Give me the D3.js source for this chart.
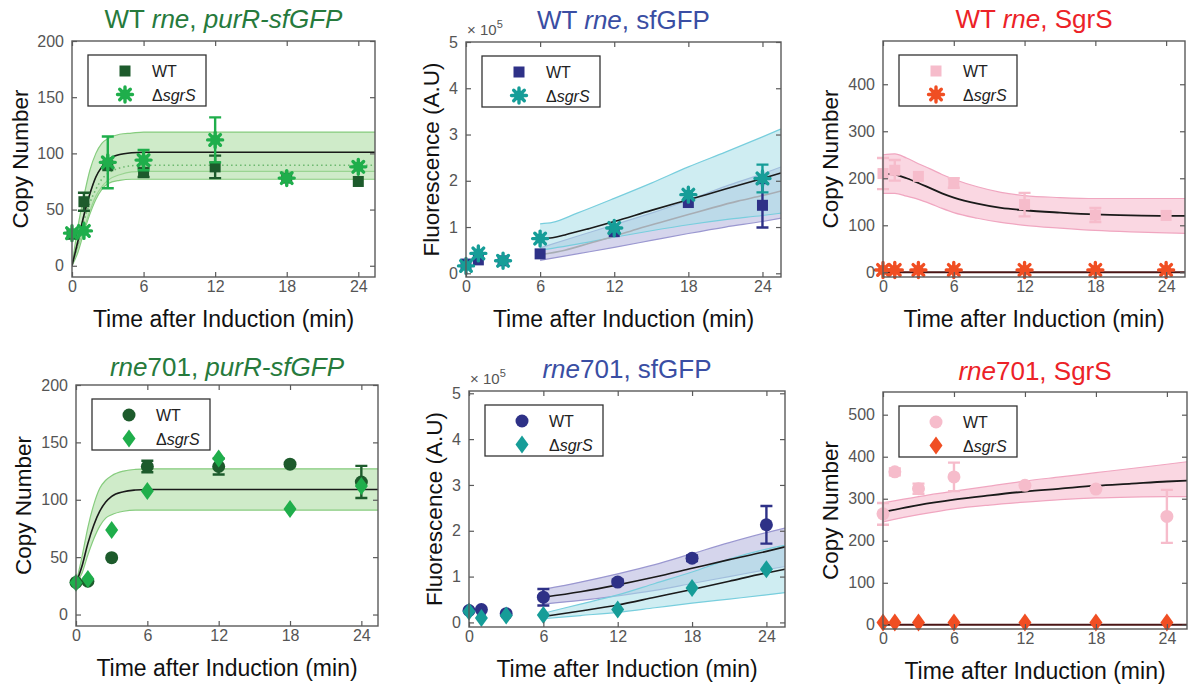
<!DOCTYPE html>
<html>
<head>
<meta charset="UTF-8">
<script src="https://d3js.org/d3.v7.min.js"></script>
<style>
  body { margin: 0; background: #fff; }
  svg text { font-family: "Liberation Sans", Arial, Helvetica, sans-serif; }
</style>
<title>Copy number and fluorescence after induction</title>
</head>
<body>
<svg width="1193" height="692"></svg>
<script>
// ---- shared axis values ----
var times = [0, 1, 3, 6, 12, 18, 24];
var xTicks = [0, 6, 12, 18, 24];
var copyTicks200 = [0, 50, 100, 150, 200];
var fluoTicks = [0, 1, 2, 3, 4, 5];
var copyTicks400 = [0, 100, 200, 300, 400];
var copyTicks500 = [0, 100, 200, 300, 400, 500];

// ---- A: WT rne, purR-sfGFP ----
var aWT = [28, 57, 89, 83, 88, 78, 75];
var aWTErr = [0, 8, 0, 4, 10, 0, 0];
var aDel = [29, 31, 92, 94, 112, 78, 88];
var aDelErr = [0, 0, 23, 9, 20, 0, 0];
var aFit = [[0, 0], [0.5, 22], [1, 45], [1.5, 64], [2, 79], [2.5, 88], [3, 94], [4, 99], [5, 100.5], [6, 101], [25.4, 101]];
var aFitDot = [[0, 0], [0.5, 20], [1, 40], [1.5, 56], [2, 68], [2.5, 77], [3, 82], [4, 87], [5, 89], [6, 89.5], [25.4, 89.5]];
var aBand = [[0, 0, 0], [0.5, 12, 35], [1, 30, 62], [1.5, 46, 85], [2, 59, 100], [2.5, 68, 109], [3, 73, 113], [4, 76, 117], [5, 77, 118], [6, 77, 119], [25.4, 77, 119]];
var aBand2 = [[0, 0, 0], [1, 33, 45], [2, 62, 79], [3, 76, 94], [4, 81, 99], [5, 83.5, 100.5], [6, 84, 101], [25.4, 84, 101]];

// ---- B: WT rne, sfGFP (x 10^5) ----
var bWT = [0.2, 0.29, 0.27, 0.42, 0.9, 1.53, 1.47];
var bWTErr = [0, 0, 0, 0, 0, 0, 0.48];
var bDel = [0.16, 0.43, 0.27, 0.75, 0.98, 1.7, 2.05];
var bDelErr = [0, 0, 0, 0, 0, 0, 0.3];
var bFitDel = [[6, 0.75], [7, 0.77], [8, 0.83], [10, 0.97], [12, 1.12], [15, 1.36], [18, 1.59], [21, 1.82], [24, 2.05], [25.5, 2.17]];
var bFitWT = [[6, 0.4], [8, 0.5], [10, 0.65], [12, 0.8], [14, 0.97], [16, 1.12], [18, 1.27], [20, 1.42], [22, 1.56], [24, 1.68], [25.5, 1.78]];
var bBandDel = [[6, 0.5, 1.07], [7, 0.54, 1.1], [9, 0.63, 1.3], [12, 0.78, 1.62], [15, 0.92, 1.95], [18, 1.05, 2.3], [21, 1.16, 2.62], [24, 1.25, 2.95], [25.5, 1.3, 3.12]];
var bBandWT = [[6, 0.28, 0.55], [9, 0.42, 0.8], [12, 0.56, 1.05], [15, 0.71, 1.3], [18, 0.86, 1.58], [21, 1.0, 1.88], [24, 1.12, 2.15], [25.5, 1.19, 2.3]];

// ---- C: WT rne, SgrS ----
var cWT = [210, 217, 204, 190, 144, 122, 121];
var cWTErr = [33, 22, 0, 10, 25, 15, 0];
var cDel = [5, 5, 5, 5, 5, 5, 5];
var cDelErr = [0, 0, 0, 0, 0, 0, 0];
var cFit = [[0, 210], [1, 208], [2, 200], [3, 190], [4, 179], [5, 168], [6, 159], [8, 146], [10, 137], [12, 132], [15, 127], [18, 123], [21, 121], [24, 120], [25.6, 120]];
var cFitDel = [[0, 0], [25.6, 0]];
var cBand = [[0, 168, 250], [1, 168, 252], [2, 162, 243], [3, 155, 231], [4, 146, 220], [5, 136, 208], [6, 127, 198], [8, 115, 182], [10, 106, 170], [12, 100, 163], [15, 94, 159], [18, 89, 157], [21, 86, 157], [24, 84, 157], [25.6, 83, 157]];

// ---- D: rne701, purR-sfGFP ----
var dWT = [28, 29, 49.5, 129, 129, 131, 115.5];
var dWTErr = [0, 0, 0, 5, 7, 0, 14];
var dDel = [27.6, 31, 73.6, 107.6, 136, 92, 112];
var dDelErr = [0, 0, 0, 0, 0, 0, 0];
var dFit = [[0, 27], [0.5, 42], [1, 62], [1.5, 78], [2, 90], [2.5, 98], [3, 103], [4, 107], [5, 108.5], [6, 109], [25.4, 109]];
var dBand = [[0, 27, 27], [0.5, 36, 50], [1, 52, 76], [1.5, 66, 96], [2, 77, 110], [2.5, 84, 117], [3, 87, 121], [4, 90, 125], [5, 91, 126.5], [6, 91, 127], [25.4, 91, 127]];

// ---- E: rne701, sfGFP (x 10^5) ----
var eWT = [0.26, 0.28, 0.19, 0.55, 0.88, 1.4, 2.13];
var eWTErr = [0, 0, 0, 0.18, 0.06, 0.06, 0.41];
var eDel = [0.24, 0.095, 0.15, 0.16, 0.28, 0.75, 1.16];
var eDelErr = [0, 0, 0, 0, 0, 0, 0];
var eFitWT = [[6, 0.55], [9, 0.67], [12, 0.82], [15, 0.99], [18, 1.18], [21, 1.37], [24, 1.55], [25.5, 1.65]];
var eFitDel = [[6, 0.13], [9, 0.25], [12, 0.38], [15, 0.55], [18, 0.72], [21, 0.9], [24, 1.08], [25.5, 1.16]];
var eBandWT = [[6, 0.4, 0.72], [9, 0.48, 0.88], [12, 0.58, 1.06], [15, 0.7, 1.26], [18, 0.85, 1.5], [21, 1.0, 1.74], [24, 1.15, 1.96], [25.5, 1.22, 2.06]];
var eBandDel = [[6, 0.08, 0.2], [9, 0.15, 0.4], [12, 0.22, 0.6], [15, 0.32, 0.85], [18, 0.42, 1.1], [21, 0.51, 1.38], [24, 0.6, 1.6], [25.5, 0.65, 1.68]];

// ---- F: rne701, SgrS ----
var fWT = [264, 364, 324, 352, 332, 323, 258];
var fWTErr = [26, 8, 12, 34, 0, 0, 63];
var fDel = [5.5, 5.5, 5.5, 5.5, 5.5, 5.5, 5.5];
var fDelErr = [0, 0, 0, 0, 0, 0, 0];
var fFit = [[0, 268], [3, 285], [6, 298], [9, 308], [12, 317], [15, 324], [18, 331], [21, 336], [24, 341], [25.7, 343]];
var fFitDel = [[0, 0], [25.7, 0]];
var fBand = [[0, 245, 290], [3, 262, 305], [6, 276, 318], [9, 285, 330], [12, 292, 342], [15, 298, 352], [18, 302, 362], [21, 304, 372], [24, 305, 382], [25.7, 305, 388]];

// colours
var dkGreen = "#1d5b2c", green = "#1fae4b", navy = "#2e3187", teal = "#169d98",
    pink = "#f6bccb", orange = "#f04e23";
var greenTitle = "#267a3c", blueTitle = "#3a4ea3", redTitle = "#ec2227";

var panels = [
  { rect: [72, 375, 41, 277], xMax: 25.4, yDom: [-10, 200], yTicks: copyTicks200, yLabel: "Copy Number", yOff: 44,
    title: [["WT ", 0], ["rne", 1], [", ", 0], ["purR-sfGFP", 1]], titleColor: greenTitle, titleY: 28,
    bands: [{ d: aBand, fill: "#9fd894", op: 0.5, stroke: "#86cc7e" }, { d: aBand2, fill: "#9fd894", op: 0.15, stroke: "#9ad492" }],
    lines: [{ d: aFitDot, color: "#6cb86f", w: 1.6, dash: "1.5,3" }, { d: aFit, color: "#1a1a1a", w: 1.6 }],
    series: [{ y: aWT, err: aWTErr, color: dkGreen, m: "square" }, { y: aDel, err: aDelErr, color: green, m: "asterisk" }] },
  { rect: [466, 781, 42, 277], xMax: 25.5, yDom: [-0.08, 5], yTicks: fluoTicks, yLabel: "Fluorescence (A.U)", yOff: 27, exp: true,
    title: [["WT ", 0], ["rne", 1], [", sfGFP", 0]], titleColor: blueTitle, titleY: 28.5,
    bands: [{ d: bBandWT, fill: "#b9b9e0", op: 0.6, stroke: "#9a97d0" }, { d: bBandDel, fill: "#a8dfe8", op: 0.55, stroke: "#78cedd" }],
    lines: [{ d: bFitWT, color: "#a7adb4", w: 1.6 }, { d: bFitDel, color: "#1a1a1a", w: 1.6 }],
    series: [{ y: bWT, err: bWTErr, color: navy, m: "square" }, { y: bDel, err: bDelErr, color: teal, m: "asterisk" }] },
  { rect: [883, 1185, 41, 277], xMax: 25.6, yDom: [-10, 492], yTicks: copyTicks400, yLabel: "Copy Number", yOff: 45,
    title: [["WT ", 0], ["rne", 1], [", SgrS", 0]], titleColor: redTitle, titleY: 27.5,
    bands: [{ d: cBand, fill: "#f8c9d8", op: 0.75, stroke: "#f0a6c0" }],
    lines: [{ d: cFitDel, color: "#4a1515", w: 2 }, { d: cFit, color: "#1a1a1a", w: 1.8 }],
    series: [{ y: cWT, err: cWTErr, color: pink, m: "square" }, { y: cDel, err: cDelErr, color: orange, m: "asterisk" }] },
  { rect: [76, 378, 385, 626], xMax: 25.4, yDom: [-10, 200], yTicks: copyTicks200, yLabel: "Copy Number", yOff: 45,
    title: [["rne", 1], ["701, ", 0], ["purR-sfGFP", 1]], titleColor: greenTitle, titleY: 376,
    bands: [{ d: dBand, fill: "#9fd894", op: 0.5, stroke: "#86cc7e" }],
    lines: [{ d: dFit, color: "#1a1a1a", w: 1.6 }],
    series: [{ y: dWT, err: dWTErr, color: dkGreen, m: "circle" }, { y: dDel, err: dDelErr, color: green, m: "diamond" }] },
  { rect: [469, 785, 391, 627], xMax: 25.5, yDom: [-0.1, 5.05], yTicks: fluoTicks, yLabel: "Fluorescence (A.U)", yOff: 27, exp: true,
    title: [["rne", 1], ["701, sfGFP", 0]], titleColor: blueTitle, titleY: 377.5,
    bands: [{ d: eBandWT, fill: "#b9b9e0", op: 0.6, stroke: "#9a97d0" }, { d: eBandDel, fill: "#a8dfe8", op: 0.55, stroke: "#78cedd" }],
    lines: [{ d: eFitWT, color: "#1a1a1a", w: 1.6 }, { d: eFitDel, color: "#1a1a1a", w: 1.6 }],
    series: [{ y: eWT, err: eWTErr, color: navy, m: "circle" }, { y: eDel, err: eDelErr, color: teal, m: "diamond" }] },
  { rect: [883, 1187, 392, 629], xMax: 25.7, yDom: [-10, 554], yTicks: copyTicks500, yLabel: "Copy Number", yOff: 45,
    title: [["rne", 1], ["701, SgrS", 0]], titleColor: redTitle, titleY: 379.5,
    bands: [{ d: fBand, fill: "#f8c9d8", op: 0.75, stroke: "#f0a6c0" }],
    lines: [{ d: fFitDel, color: "#4a1515", w: 2 }, { d: fFit, color: "#1a1a1a", w: 1.8 }],
    series: [{ y: fWT, err: fWTErr, color: pink, m: "circle" }, { y: fDel, err: fDelErr, color: orange, m: "diamond" }] }
];

var svg = d3.select("svg");

// draws one marker shape centred on 0,0 inside g
function marker(g, type, color) {
  if (type === "square") {
    g.append("rect").attr("x", -5.5).attr("y", -5.5).attr("width", 11).attr("height", 11).attr("fill", color);
  } else if (type === "circle") {
    g.append("circle").attr("r", 6.5).attr("fill", color);
  } else if (type === "diamond") {
    g.append("path").attr("d", "M0,-9L6.5,0L0,9L-6.5,0Z").attr("fill", color);
  } else {
    var r = 7.5, a = r * 0.7071;
    g.append("circle").attr("r", 5).attr("fill", color);
    g.append("path")
      .attr("d", "M" + (-r) + ",0L" + r + ",0M0," + (-r) + "L0," + r +
                 "M" + (-a) + "," + (-a) + "L" + a + "," + a + "M" + (-a) + "," + a + "L" + a + "," + (-a))
      .attr("stroke", color).attr("stroke-width", 3.4).attr("stroke-linecap", "round");
  }
}

panels.forEach(function(p, i) {
  var x0 = p.rect[0], x1 = p.rect[1], y0 = p.rect[2], y1 = p.rect[3];
  var x = d3.scaleLinear().domain([0, p.xMax]).range([x0, x1]);
  var y = d3.scaleLinear().domain(p.yDom).range([y1, y0]);
  var g = svg.append("g");

  g.append("clipPath").attr("id", "clip" + i)
    .append("rect").attr("x", x0).attr("y", y0).attr("width", x1 - x0).attr("height", y1 - y0);
  var plot = g.append("g").attr("clip-path", "url(#clip" + i + ")");

  // confidence bands
  p.bands.forEach(function(b) {
    var area = d3.area().x(function(d) { return x(d[0]); })
      .y0(function(d) { return y(d[1]); }).y1(function(d) { return y(d[2]); })
      .curve(d3.curveMonotoneX);
    plot.append("path").datum(b.d).attr("d", area).attr("fill", b.fill).attr("fill-opacity", b.op);
    [1, 2].forEach(function(k) {
      var edge = d3.line().x(function(d) { return x(d[0]); }).y(function(d) { return y(d[k]); }).curve(d3.curveMonotoneX);
      plot.append("path").datum(b.d).attr("d", edge).attr("fill", "none")
        .attr("stroke", b.stroke).attr("stroke-width", 1.2);
    });
  });

  // fitted curves
  p.lines.forEach(function(l) {
    var line = d3.line().x(function(d) { return x(d[0]); }).y(function(d) { return y(d[1]); }).curve(d3.curveMonotoneX);
    plot.append("path").datum(l.d).attr("d", line).attr("fill", "none")
      .attr("stroke", l.color).attr("stroke-width", l.w).attr("stroke-dasharray", l.dash || null);
  });

  // measured points with error bars
  p.series.forEach(function(s) {
    times.forEach(function(t, j) {
      var cx = x(t), cy = y(s.y[j]);
      if (s.err[j] > 0) {
        var top = y(s.y[j] + s.err[j]), bot = y(s.y[j] - s.err[j]);
        g.append("path")
          .attr("d", "M" + cx + "," + top + "L" + cx + "," + bot +
                     "M" + (cx - 6) + "," + top + "L" + (cx + 6) + "," + top +
                     "M" + (cx - 6) + "," + bot + "L" + (cx + 6) + "," + bot)
          .attr("stroke", s.color).attr("stroke-width", 2.4).attr("fill", "none");
      }
      marker(g.append("g").attr("transform", "translate(" + cx + "," + cy + ")"), s.m, s.color);
    });
  });

  // axes: inward ticks on all four sides
  var tickCol = "#5a5a5a";
  var ax = [
    g.append("g").attr("transform", "translate(0," + y1 + ")")
      .call(d3.axisBottom(x).tickValues(xTicks).tickSizeInner(-5).tickSizeOuter(0).tickPadding(4)),
    g.append("g").attr("transform", "translate(0," + y0 + ")")
      .call(d3.axisTop(x).tickValues(xTicks).tickSizeInner(-5).tickSizeOuter(0).tickFormat("")),
    g.append("g").attr("transform", "translate(" + x0 + ",0)")
      .call(d3.axisLeft(y).tickValues(p.yTicks).tickFormat(d3.format("d")).tickSizeInner(-5).tickSizeOuter(0).tickPadding(8)),
    g.append("g").attr("transform", "translate(" + x1 + ",0)")
      .call(d3.axisRight(y).tickValues(p.yTicks).tickSizeInner(-5).tickSizeOuter(0).tickFormat(""))
  ];
  ax.forEach(function(a) {
    a.select(".domain").remove();
    a.selectAll("line").attr("stroke", tickCol).attr("stroke-width", 1.2);
    a.selectAll("text").attr("font-size", 16).attr("fill", "#555")
      .style("font-family", '"Liberation Sans", Arial, sans-serif');
  });
  g.append("rect").attr("x", x0).attr("y", y0).attr("width", x1 - x0).attr("height", y1 - y0)
    .attr("fill", "none").attr("stroke", tickCol).attr("stroke-width", 1.4);

  if (p.exp) {
    var e = g.append("text").attr("x", x0 + 1).attr("y", y0 - 7).attr("font-size", 15).attr("fill", "#555");
    e.append("tspan").text("\u00d7 10");
    e.append("tspan").attr("dy", -7).attr("font-size", 11).text("5");
  }

  // labels
  g.append("text").attr("x", (x0 + x1) / 2).attr("y", y1 + 50).attr("text-anchor", "middle")
    .attr("font-size", 23).attr("fill", "#111").text("Time after Induction (min)");
  g.append("text").attr("transform", "translate(" + (x0 - p.yOff) + "," + ((y0 + y1) / 2) + ") rotate(-90)")
    .attr("text-anchor", "middle").attr("font-size", 22.5).attr("fill", "#111").text(p.yLabel);
  var tt = g.append("text").attr("x", (x0 + x1) / 2).attr("y", p.titleY).attr("text-anchor", "middle")
    .attr("font-size", 26).attr("fill", p.titleColor);
  p.title.forEach(function(part) {
    tt.append("tspan").attr("font-style", part[1] ? "italic" : "normal").text(part[0]);
  });

  // legend
  var lx = x0 + 16, ly = y0 + 14;
  var leg = g.append("g").attr("transform", "translate(" + lx + "," + ly + ")");
  leg.append("rect").attr("width", 118).attr("height", 51).attr("fill", "#fff")
    .attr("stroke", "#333").attr("stroke-width", 1.3);
  p.series.forEach(function(s, k) {
    var ry = 16 + k * 23.5;
    marker(leg.append("g").attr("transform", "translate(37," + ry + ")"), s.m, s.color);
    var lt = leg.append("text").attr("x", 64).attr("y", ry + 6).attr("font-size", 16).attr("fill", "#222");
    if (k === 0) lt.text("WT");
    else {
      lt.append("tspan").text("\u0394");
      lt.append("tspan").attr("font-style", "italic").text("sgrS");
    }
  });
});
</script>
</body>
</html>
